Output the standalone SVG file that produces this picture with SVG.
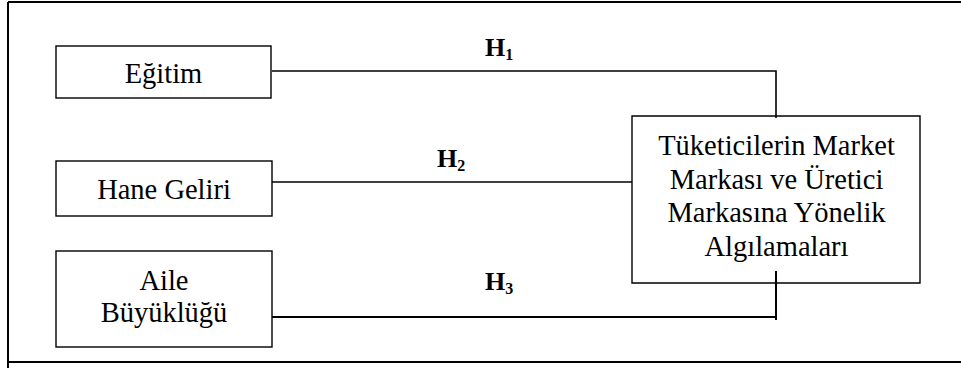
<svg xmlns="http://www.w3.org/2000/svg" width="961" height="368" viewBox="0 0 961 368">
<style>
.box{fill:none;stroke:#000;stroke-width:1.4}
.t{font-family:"Liberation Serif","Times New Roman",serif;font-size:28.5px;fill:#000;text-anchor:middle}
.h{font-family:"Liberation Serif","Times New Roman",serif;font-size:26px;font-weight:bold;fill:#000}
.sub{font-size:16px}
.ln{stroke:#000;stroke-width:1.6;fill:none}
.fr{stroke:#000;stroke-width:2;fill:none}
</style>
<rect width="961" height="368" fill="#fff"/>
<g id="frame">
<path class="fr" d="M8,2 H961 M8,2 V368 M8,362 H961"/>
</g>
<g id="egitim">
<rect class="box" x="56" y="46" width="215" height="52"/>
<text class="t" x="163.5" y="83">Eğitim</text>
</g>
<g id="hane">
<rect class="box" x="56" y="161" width="216" height="55"/>
<text class="t" x="164" y="199">Hane Geliri</text>
</g>
<g id="aile">
<rect class="box" x="56" y="251" width="216" height="96"/>
<text class="t" x="164" y="290">Aile</text>
<text class="t" x="164" y="322">Büyüklüğü</text>
</g>
<g id="tuketici">
<path class="box" d="M632,116 H920 V283 H632 Z"/>
<text class="t" x="776.5" y="155">Tüketicilerin Market</text>
<text class="t" x="776.5" y="188.5">Markası ve Üretici</text>
<text class="t" x="776.5" y="222">Markasına Yönelik</text>
<text class="t" x="776.5" y="255.5">Algılamaları</text>
</g>
<g id="connectors">
<path class="ln" d="M272,71 H776 V118"/>
<path class="ln" d="M272,182 H632"/>
<path class="ln" d="M272,317 H776 M776,271 V320" style="stroke-width:2"/>
<text class="h" x="485" y="56">H<tspan class="sub" dy="4">1</tspan></text>
<text class="h" x="437" y="167">H<tspan class="sub" dy="4">2</tspan></text>
<text class="h" x="485" y="290">H<tspan class="sub" dy="4">3</tspan></text>
</g>
</svg>
